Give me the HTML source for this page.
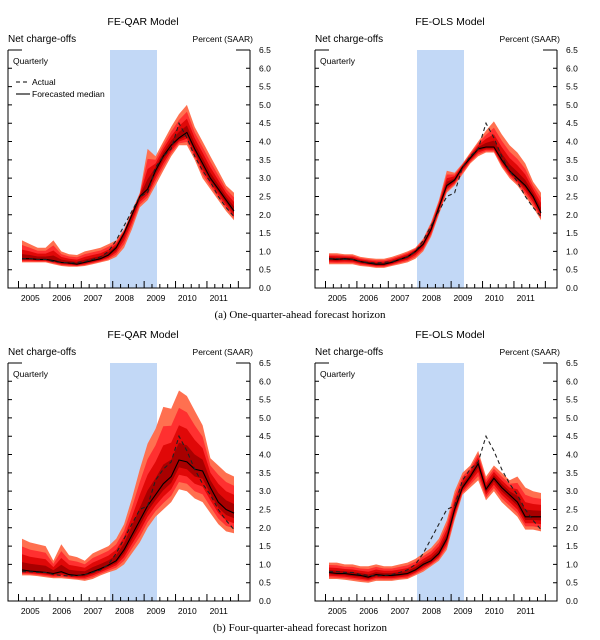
<!DOCTYPE html>
<html><head><meta charset="utf-8">
<style>
body{margin:0;background:#fff;}
svg{display:block;font-family:"Liberation Sans",sans-serif;}
.cap{font-family:"Liberation Serif",serif;font-size:11px;}
</style></head>
<body>
<svg id="chart" width="600" height="640" viewBox="0 0 600 640"></svg>
<script>
const yearLabels=["2005","2006","2007","2008","2009","2010","2011"];
const yTicks=[0,0.5,1,1.5,2,2.5,3,3.5,4,4.5,5,5.5,6,6.5];
const actual=[.8,.8,.78,.78,.72,.7,.68,.7,.72,.78,.85,1.0,1.3,1.7,2.1,2.5,2.6,3.3,3.6,3.8,4.5,4.1,3.6,3.2,2.9,2.5,2.2,1.95];
const p1Median=[.8,.8,.78,.78,.75,.7,.68,.65,.7,.75,.8,.9,1.1,1.5,2.0,2.5,2.7,3.2,3.6,3.9,4.1,4.25,3.8,3.4,3.0,2.7,2.4,2.1];
const p1Hi=[1.3,1.2,1.1,1.1,1.3,1.0,.92,.9,1.0,1.05,1.1,1.2,1.3,1.6,2.1,2.6,3.8,3.6,4.0,4.4,4.75,5.0,4.4,4.0,3.6,3.2,2.8,2.6];
const p1Lo=[.7,.7,.7,.7,.65,.6,.58,.58,.6,.65,.7,.75,.85,1.1,1.6,2.2,2.4,2.8,3.2,3.6,3.9,3.9,3.5,3.0,2.7,2.4,2.1,1.85];
const p2Median=[.8,.78,.8,.78,.72,.68,.65,.65,.7,.78,.85,1.0,1.2,1.6,2.2,2.8,2.95,3.3,3.55,3.8,3.85,3.85,3.5,3.2,3.0,2.8,2.5,2.05];
const p2Hi=[.95,.95,.92,.92,.85,.82,.8,.8,.85,.92,1.0,1.1,1.35,1.8,2.4,3.2,3.15,3.4,3.7,4.0,4.3,4.55,4.2,3.9,3.7,3.4,2.9,2.6];
const p2Lo=[.65,.65,.65,.65,.6,.58,.55,.55,.6,.65,.7,.8,1.0,1.4,2.0,2.6,2.8,3.1,3.4,3.6,3.7,3.7,3.3,3.0,2.8,2.5,2.2,1.85];
const p3Median=[.85,.82,.8,.78,.75,.8,.72,.7,.72,.8,.88,.98,1.1,1.4,1.8,2.2,2.6,2.9,3.2,3.4,3.85,3.8,3.6,3.55,3.1,2.7,2.5,2.4];
const p3Hi=[1.7,1.6,1.55,1.5,1.1,1.55,1.25,1.2,1.1,1.3,1.4,1.5,1.7,2.1,2.8,3.6,4.3,4.7,5.3,5.25,5.75,5.6,5.2,4.8,3.9,3.7,3.5,3.4];
const p3Lo=[.7,.7,.68,.65,.62,.62,.6,.58,.55,.6,.7,.78,.85,1.0,1.3,1.6,2.0,2.3,2.5,2.7,3.05,3.0,2.8,2.7,2.4,2.1,1.9,1.85];
const p4Median=[.78,.75,.75,.72,.7,.65,.72,.7,.7,.72,.75,.85,1.0,1.1,1.3,1.7,2.5,3.1,3.4,3.75,3.05,3.35,3.1,2.9,2.7,2.3,2.3,2.3];
const p4Hi=[1.05,1.05,1.0,1.0,.95,.95,1.0,.95,.95,1.0,1.05,1.15,1.3,1.45,1.7,2.2,3.0,3.5,3.7,4.1,3.4,3.7,3.5,3.3,3.4,3.1,3.0,2.95];
const p4Lo=[.6,.6,.58,.55,.52,.5,.55,.55,.55,.58,.6,.7,.8,.95,1.1,1.4,2.2,2.9,3.1,3.3,2.75,3.0,2.7,2.5,2.3,1.95,1.95,1.9];

const NS="http://www.w3.org/2000/svg";
const svg=document.getElementById('chart');
function mk(tag,attrs,parent,text){const e=document.createElementNS(NS,tag);for(const k in attrs)e.setAttribute(k,attrs[k]);if(text!==undefined)e.textContent=text;(parent||svg).appendChild(e);return e;}

const fracs=[1,0.75,0.5,0.25];
const shades=["#ff7050","#ff3030","#e00808","#a80000"];

function panel(px,py,title,median,hi,lo,legend,key){
  const W=242,H=238;
  const g=mk('g',{});
  
  
  const x=i=>px+14+i*(W-30)/27;
  const y=v=>py+H-v*(H/6.5);
  const rb=mk('rect',{x:px+102,y:py,width:47,height:H,fill:"#c2d8f6"},g);
  
  
  fracs.forEach((f,k)=>{
    let up=[],dn=[];
    for(let i=0;i<median.length;i++){
      up.push(x(i).toFixed(1)+','+y(median[i]+(hi[i]-median[i])*f).toFixed(1));
      dn.unshift(x(i).toFixed(1)+','+y(median[i]-(median[i]-lo[i])*f).toFixed(1));
    }
    const p=mk('polygon',{points:up.concat(dn).join(' '),fill:shades[k]},g);
    
    
  });
  const pts=a=>a.map((v,i)=>x(i).toFixed(1)+','+y(v).toFixed(1)).join(' ');
  const ml=mk('polyline',{points:pts(median),fill:'none',stroke:'#000','stroke-width':1.1},g);
  
  
  const al=mk('polyline',{points:pts(actual),fill:'none',stroke:'#222','stroke-width':1.1,'stroke-dasharray':'4,3'},g);
  
  
  const ax={stroke:'#000','stroke-width':1,fill:'none'};
  mk('path',Object.assign({d:`M${px},${py}V${py+H}H${px+W}V${py} M${px},${py}h14 M${px+W},${py}h-14`},ax),g);
  yTicks.forEach(v=>{
    mk('path',Object.assign({d:`M${px},${y(v)}h4 M${px+W},${y(v)}h-4`},ax),g);
    const t=mk('text',{x:px+W+9,y:y(v)+3,'font-size':8.5,fill:'#000'},g,v.toFixed(1));
    
    
  });
  for(let i=0;i<=28;i++){
    const tx=x(i)-3.5;
    mk('path',Object.assign({d:`M${tx},${py+H}v${i%4===0?-7:-4}`},ax),g);
  }
  yearLabels.forEach((lab,k)=>{
    const t=mk('text',{x:x(k*4+1.5)-3.5,y:py+H+13,'font-size':8.5,'text-anchor':'middle'},g,lab);
    
    
  });
  const tt=mk('text',{x:px+W/2+14,y:py-25,'font-size':10.5,'text-anchor':'middle'},g,title);
  
  
  const s1=mk('text',{x:px,y:py-8,'font-size':10},g,'Net charge-offs');
  
  
  const s2=mk('text',{x:px+W+3,y:py-8,'font-size':8.5,'text-anchor':'end'},g,'Percent (SAAR)');
  
  
  const q=mk('text',{x:px+5,y:py+14,'font-size':8.5},g,'Quarterly');
  
  
  if(legend){
    mk('path',{d:`M${px+8},${py+32}h14`,stroke:'#000','stroke-dasharray':'4,3','stroke-width':1.1},g);
    const l1=mk('text',{x:px+24,y:py+35,'font-size':8.5},g,'Actual');
    
    
    mk('path',{d:`M${px+8},${py+44}h14`,stroke:'#000','stroke-width':1.1},g);
    const l2=mk('text',{x:px+24,y:py+47,'font-size':8.5},g,'Forecasted median');
    
    
  }
}
panel(8,50,'FE-QAR Model',p1Median,p1Hi,p1Lo,true,'qar-one-quarter');
panel(315,50,'FE-OLS Model',p2Median,p2Hi,p2Lo,false,'ols-one-quarter');
panel(8,363,'FE-QAR Model',p3Median,p3Hi,p3Lo,false,'qar-four-quarter');
panel(315,363,'FE-OLS Model',p4Median,p4Hi,p4Lo,false,'ols-four-quarter');
const c1=mk('text',{x:300,y:318,'text-anchor':'middle',class:'cap'},svg,'(a)  One-quarter-ahead forecast horizon');


const c2=mk('text',{x:300,y:631,'text-anchor':'middle',class:'cap'},svg,'(b)  Four-quarter-ahead forecast horizon');


</script>
</body></html>
